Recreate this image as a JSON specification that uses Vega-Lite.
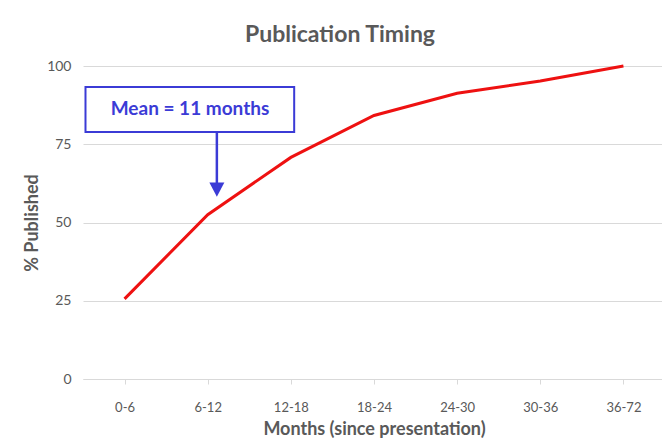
{
  "$schema": "https://vega.github.io/schema/vega-lite/v6.json",
  "width": 582,
  "height": 313,
  "autosize": {"type": "none"},
  "padding": {"left": 83, "top": 66, "right": 0, "bottom": 64},
  "background": "white",
  "config": {"view": {"stroke": null}, "font": "Lato"},
  "title": {
    "text": "Publication Timing",
    "fontSize": 23,
    "fontWeight": "bold",
    "color": "#595959",
    "anchor": "middle",
    "dx": -34,
    "dy": 30,
    "baseline": "bottom",
    "offset": 19
  },
  "datasets": {
    "pub": [
      {"period": "0-6", "published": 25.6},
      {"period": "6-12", "published": 52.5},
      {"period": "12-18", "published": 70.8},
      {"period": "18-24", "published": 84.2},
      {"period": "24-30", "published": 91.3},
      {"period": "30-36", "published": 95.2},
      {"period": "36-72", "published": 100}
    ],
    "box": [{"x1": -0.47, "x2": 2.04, "y1": 93.3, "y2": 78.9, "label": "Mean = 11 months", "xc": 0.787, "yc": 86.3}],
    "arrow": [{"x": 1.11, "top": 78.9, "bottom": 62.6, "tip": 60.4}]
  },
  "layer": [
    {
      "data": {"name": "pub"},
      "mark": {"type": "line", "color": "#ee1111", "strokeWidth": 3},
      "encoding": {
        "x": {
          "field": "period",
          "type": "ordinal",
          "sort": null,
          "scale": {"type": "point", "padding": 0.5},
          "axis": {
            "title": "Months (since presentation)",
            "titleFontSize": 18,
            "titleFontWeight": "bold",
            "titleColor": "#595959",
            "titlePadding": 6,
            "labelAngle": 0,
            "labelFontSize": 13,
            "labelColor": "#595959",
            "labelPadding": 17,
            "tickSize": 5,
            "tickColor": "#d9d9d9",
            "domainColor": "#d9d9d9",
            "grid": false
          }
        },
        "y": {
          "field": "published",
          "type": "quantitative",
          "scale": {"domain": [0, 100]},
          "axis": {
            "title": "% Published",
            "titleFontSize": 18,
            "titleFontWeight": "bold",
            "titleColor": "#595959",
            "titlePadding": 5,
            "values": [0, 25, 50, 75, 100],
            "labelFontSize": 14,
            "labelColor": "#595959",
            "labelPadding": 12,
            "ticks": false,
            "domain": false,
            "grid": true,
            "gridColor": "#d9d9d9"
          }
        }
      }
    },
    {
      "data": {"name": "box"},
      "mark": {"type": "rect", "fill": "white", "stroke": "#3b3bd6", "strokeWidth": 2},
      "encoding": {
        "x": {"field": "x1", "type": "quantitative", "scale": {"domain": [-0.5, 6.5]}, "axis": null},
        "x2": {"field": "x2"},
        "y": {"field": "y1", "type": "quantitative", "axis": null},
        "y2": {"field": "y2"}
      }
    },
    {
      "data": {"name": "box"},
      "mark": {"type": "text", "color": "#3b3bd6", "fontSize": 19, "fontWeight": "bold", "baseline": "middle", "align": "center"},
      "encoding": {
        "x": {"field": "xc", "type": "quantitative", "scale": {"domain": [-0.5, 6.5]}, "axis": null},
        "y": {"field": "yc", "type": "quantitative", "axis": null},
        "text": {"field": "label"}
      }
    },
    {
      "data": {"name": "arrow"},
      "mark": {"type": "rule", "color": "#3b3bd6", "strokeWidth": 2.5},
      "encoding": {
        "x": {"field": "x", "type": "quantitative", "scale": {"domain": [-0.5, 6.5]}, "axis": null},
        "y": {"field": "top", "type": "quantitative", "axis": null},
        "y2": {"field": "bottom"}
      }
    },
    {
      "data": {"name": "arrow"},
      "mark": {"type": "point", "shape": "M-1,-1L1,-1L0,0.9Z", "filled": true, "color": "#3b3bd6", "size": 225, "opacity": 1},
      "encoding": {
        "x": {"field": "x", "type": "quantitative", "scale": {"domain": [-0.5, 6.5]}, "axis": null},
        "y": {"field": "tip", "type": "quantitative", "axis": null}
      }
    }
  ],
  "resolve": {"scale": {"x": "independent"}, "axis": {"y": "independent"}}
}
